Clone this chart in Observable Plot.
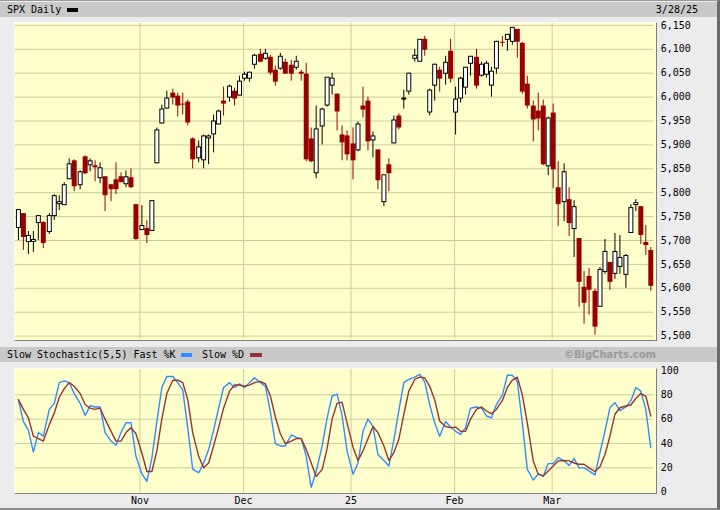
<!DOCTYPE html>
<html><head><meta charset="utf-8">
<script src="https://cdn.jsdelivr.net/npm/d3@7"></script>
<script src="https://cdn.jsdelivr.net/npm/@observablehq/plot@0.6"></script>
<style>
html,body{margin:0;padding:0;background:#ececec;}
#wrap{position:relative;width:720px;height:510px;overflow:hidden;background:#ececec;font-family:"DejaVu Sans Mono",monospace;font-size:10px;color:#000;box-sizing:border-box;border-top:1px solid #9a9a9a;border-right:3px solid #6a6a6a;border-bottom:2px solid #8a8a8a;}
.abs{position:absolute;}
.bar{left:0;width:717px;height:15px;background:#c9c9c9;}
.pane{background:#ffffcc;box-sizing:border-box;border-top:1px solid #ffffff;border-left:1px solid #ffffff;border-right:1px solid #808080;border-bottom:1px solid #808080;}
.txt{line-height:15px;white-space:pre;}
.sw{position:absolute;height:4px;}
#wrap svg{position:absolute;left:0;}
</style></head>
<body>
<div id="wrap">
  <div class="abs bar" style="top:1px"></div>
  <div class="abs txt" style="left:7px;top:1px">SPX Daily</div>
  <div class="sw" style="left:67px;top:7px;width:11px;background:#000"></div>
  <div class="abs txt" id="dateLbl" style="right:19px;top:1px"></div>
  <div class="abs pane" style="left:14px;top:21px;width:643px;height:319px"></div>
  <div class="abs bar" style="top:346px"></div>
  <div class="abs txt" style="left:7px;top:346px">Slow Stochastic(5,5) Fast %K</div>
  <div class="sw" style="left:181px;top:352px;width:11px;background:#2f8cff"></div>
  <div class="abs txt" style="left:202px;top:346px">Slow %D</div>
  <div class="sw" style="left:250px;top:352px;width:12px;background:#993333"></div>
  <div class="abs txt" style="right:61px;top:346px;font-family:'DejaVu Sans';font-weight:bold;color:#9a9a9a;">©BigCharts.com</div>
  <div class="abs pane" style="left:14px;top:367px;width:643px;height:126px"></div>
  <div id="price"></div>
  <div id="stoch"></div>
</div>
<script>
const dates = ["2024-09-30","2024-10-01","2024-10-02","2024-10-03","2024-10-04","2024-10-07","2024-10-08","2024-10-09","2024-10-10","2024-10-11","2024-10-14","2024-10-15","2024-10-16","2024-10-17","2024-10-18","2024-10-21","2024-10-22","2024-10-23","2024-10-24","2024-10-25","2024-10-28","2024-10-29","2024-10-30","2024-10-31","2024-11-01","2024-11-04","2024-11-05","2024-11-06","2024-11-07","2024-11-08","2024-11-11","2024-11-12","2024-11-13","2024-11-14","2024-11-15","2024-11-18","2024-11-19","2024-11-20","2024-11-21","2024-11-22","2024-11-25","2024-11-26","2024-11-27","2024-11-29","2024-12-02","2024-12-03","2024-12-04","2024-12-05","2024-12-06","2024-12-09","2024-12-10","2024-12-11","2024-12-12","2024-12-13","2024-12-16","2024-12-17","2024-12-18","2024-12-19","2024-12-20","2024-12-23","2024-12-24","2024-12-26","2024-12-27","2024-12-30","2024-12-31","2025-01-02","2025-01-03","2025-01-06","2025-01-07","2025-01-08","2025-01-10","2025-01-13","2025-01-14","2025-01-15","2025-01-16","2025-01-17","2025-01-21","2025-01-22","2025-01-23","2025-01-24","2025-01-27","2025-01-28","2025-01-29","2025-01-30","2025-01-31","2025-02-03","2025-02-04","2025-02-05","2025-02-06","2025-02-07","2025-02-10","2025-02-11","2025-02-12","2025-02-13","2025-02-14","2025-02-18","2025-02-19","2025-02-20","2025-02-21","2025-02-24","2025-02-25","2025-02-26","2025-02-27","2025-02-28","2025-03-03","2025-03-04","2025-03-05","2025-03-06","2025-03-07","2025-03-10","2025-03-11","2025-03-12","2025-03-13","2025-03-14","2025-03-17","2025-03-18","2025-03-19","2025-03-20","2025-03-21","2025-03-24","2025-03-25","2025-03-26","2025-03-27","2025-03-28"];

const open = [5727.3,5757.7,5698.2,5698.2,5737.4,5737.8,5719.1,5751.8,5778.4,5775.1,5829.8,5866.7,5816.6,5875.6,5859.4,5857.8,5832.7,5834.5,5817.8,5826.8,5833.9,5819.7,5832.6,5775.3,5723.2,5725.2,5722.4,5864.0,5947.2,5976.8,6008.9,6003.6,5985.8,5989.9,5912.8,5874.2,5869.0,5914.6,5924.4,5944.4,5992.3,6000.0,6014.1,6004.0,6040.1,6041.0,6069.4,6089.8,6081.4,6083.0,6057.6,6060.2,6074.3,6068.2,6063.8,6052.5,6047.7,5912.7,5842.0,5940.3,5984.7,6025.0,6006.2,5920.7,5919.7,5903.3,5891.1,5982.8,5993.3,5910.7,5890.7,5782.8,5859.7,5905.2,5962.0,5995.6,6014.1,6081.4,6076.3,6121.4,5969.0,6026.0,6057.7,6050.8,6096.8,5969.7,5998.1,6020.5,6072.2,6083.1,6046.4,6049.3,6025.1,6060.6,6115.5,6121.6,6117.8,6141.4,6114.1,6026.7,5982.7,5970.9,5981.9,5856.7,5968.3,5812.0,5781.4,5785.9,5726.0,5705.4,5603.7,5624.8,5594.5,5563.9,5635.6,5654.5,5632.4,5646.9,5630.7,5718.1,5775.9,5771.7,5695.6,5679.4];
const high = [5765.1,5757.7,5720.0,5718.8,5753.4,5739.3,5757.2,5796.8,5795.0,5822.1,5871.4,5870.4,5846.9,5878.5,5872.2,5866.9,5863.0,5834.9,5817.8,5862.8,5842.9,5847.2,5850.9,5775.3,5772.8,5741.4,5783.4,5936.1,5983.8,6012.5,6017.3,6009.9,6008.2,5993.9,5915.3,5908.1,5920.7,5920.7,5963.6,5972.9,6020.8,6025.4,6020.2,6044.2,6053.6,6052.2,6089.8,6100.0,6099.9,6088.5,6065.4,6092.6,6079.7,6078.6,6085.2,6057.7,6070.7,5935.5,5982.1,5978.3,6040.1,6049.8,6006.2,5940.8,5929.7,5935.1,5949.3,6021.0,6000.7,5927.9,5890.7,5837.0,5871.9,5960.6,5964.7,6015.0,6051.5,6100.8,6118.7,6128.2,6017.2,6069.1,6062.8,6086.6,6120.9,6022.1,6042.5,6062.9,6084.0,6101.3,6073.4,6076.3,6063.0,6116.9,6127.5,6129.6,6147.4,6141.4,6114.8,6043.7,5992.7,6009.8,5993.7,5959.4,5986.1,5865.1,5860.6,5812.1,5783.0,5705.4,5636.3,5642.2,5597.8,5645.3,5703.5,5654.5,5715.3,5711.2,5670.8,5775.1,5787.0,5772.3,5732.3,5685.9];
const low = [5703.5,5681.3,5674.0,5677.0,5703.5,5686.9,5714.6,5745.0,5764.8,5775.1,5829.8,5804.5,5808.3,5840.3,5846.1,5824.8,5821.2,5762.4,5784.9,5799.0,5823.1,5813.0,5811.2,5703.2,5723.2,5696.5,5722.1,5864.0,5947.2,5976.8,5986.7,5960.1,5965.9,5942.3,5853.0,5865.9,5853.0,5860.6,5885.4,5944.4,5963.9,5992.3,5984.9,6004.0,6035.3,6033.4,6061.1,6075.0,6079.2,6048.6,6026.5,6058.4,6051.1,6035.8,6059.1,6035.2,5867.8,5866.1,5832.3,5902.6,5981.4,6007.4,5932.9,5869.2,5868.9,5829.5,5888.7,5960.0,5890.7,5874.8,5809.7,5773.4,5805.8,5905.2,5935.0,5978.4,6006.9,6076.1,6074.7,6088.7,5962.9,5994.3,6013.0,6027.5,6030.9,5923.9,5990.9,6007.1,6046.8,6020.0,6044.8,6042.3,6003.0,6051.0,6107.6,6099.5,6111.1,6084.6,6008.6,5977.8,5908.5,5932.7,5858.8,5837.7,5810.9,5732.6,5742.4,5711.6,5666.3,5564.0,5528.4,5546.1,5504.7,5563.9,5631.1,5597.8,5622.2,5632.3,5603.1,5718.1,5764.0,5694.3,5670.9,5596.0];
const close = [5762.5,5708.8,5709.5,5699.9,5751.1,5695.9,5751.1,5792.0,5780.1,5815.0,5859.9,5815.3,5842.5,5841.5,5864.7,5853.9,5851.2,5797.4,5809.9,5808.1,5823.5,5832.9,5813.7,5705.5,5728.8,5712.7,5782.8,5929.0,5973.1,5995.5,6001.4,5983.9,5985.4,5949.2,5870.6,5893.6,5917.0,5917.1,5948.7,5969.3,5987.4,6021.6,5998.7,6032.4,6047.2,6049.9,6086.5,6075.1,6090.3,6052.9,6034.9,6084.2,6051.3,6051.1,6074.1,6050.6,5872.2,5867.1,5930.9,5974.1,6040.0,6037.6,5970.8,5906.9,5881.6,5868.6,5942.5,5975.4,5909.0,5918.3,5827.0,5836.2,5842.9,5949.9,5937.3,5996.7,6049.2,6086.4,6118.7,6101.2,6012.3,6067.7,6039.3,6071.2,6040.5,5994.6,6037.9,6061.5,6083.6,6026.0,6066.4,6068.5,6052.0,6115.1,6114.6,6129.6,6144.2,6117.5,6013.1,5983.3,5955.3,5956.1,5861.6,5954.5,5849.7,5778.2,5842.6,5738.5,5770.2,5614.6,5572.1,5599.3,5521.5,5638.9,5675.1,5614.7,5675.3,5662.9,5667.6,5767.6,5776.7,5712.2,5693.3,5606.0];

const fastK = [76,58,51,33,49,46,68,73,90,91.5,90,81,73,63,71,70,70,49,42,38.5,49,57,57,29.5,15,9,28,58,86,95,95,90,84,53,19,16,24,35,51,69,86,90,86,89,86,90,94,90,87,66,40,38,38,47,45,44,29.5,4,17,38,61,79,80.6,63,34,14.8,24,50,60,54,31,26,21.6,43,67,90,92.6,94.5,96.7,90.7,72,57,46,58,53.5,50,47.5,53,69,70,69,62.6,61,72,80,96,96,90.7,57,19,10,15,13,23.5,23.5,28.4,25.7,22,27.6,20,20,17.5,14.2,32.5,50,69.4,73.5,67,70,75,86,83,68,36.6];
const slowD = [76,68,61,46,44,42,55.5,65,78,85,90,87,81,72,69,68,69,60,50,42,42,49,53,48,32,17,17,34,60,81,92,92,90,76,49,29.5,20,24,38,53,69,83,88,88,87,88,90,91,89,79,62,48,40,42,44,44,35,24,13,18.6,36,60,73,74,57,37,26,34,44,54,49,38,26,32.5,43.4,64,83,92.6,94.5,94,87,76,58.5,54,53,53.5,50,50,60,68,70,66.7,64.5,68,75.4,86,92,94.5,80,57,25.7,14.8,13.4,17.5,21.6,25.7,26,25.7,24,23,23,20,17,21,31,46,64,69.4,70.8,71.6,77,81,79,62.6];

const monthStarts = ["2024-11-01","2024-12-02","2025-01-02","2025-02-03","2025-03-03"];
const monthLabels = ["Nov","Dec","25","Feb","Mar"];
const priceTicks = [5500,5550,5600,5650,5700,5750,5800,5850,5900,5950,6000,6050,6100,6150];
const stochTicks = [0,20,40,60,80,100];
const stochGrid = [20,40,60,80];
const lastDateLabel = "3/28/25";

document.getElementById("dateLbl").textContent = lastDateLabel;

const rows = dates.map((d, i) => ({
  i, date: d, open: open[i], high: high[i], low: low[i], close: close[i],
  hi: Math.max(open[i], close[i]), lo: Math.min(open[i], close[i]),
  k: fastK[i], d: slowD[i]
}));
const up = rows.filter(r => r.close >= r.open);
const down = rows.filter(r => r.close < r.open);
const gridPos = monthStarts.map(m => dates.indexOf(m) - 0.25);
const labelOf = new Map(gridPos.map((g, j) => [g, monthLabels[j]]));
const xDomain = [-0.5, dates.length - 0.5];
const GRID = "#cccc99";
const RED = "#990000";

const price = Plot.plot({
  width: 720, height: 345,
  marginLeft: 15, marginRight: 64, marginTop: 22, marginBottom: 6,
  style: {background: "transparent", fontFamily: "DejaVu Sans Mono", fontSize: "10px", color: "#000", overflow: "visible"},
  x: {domain: xDomain, round: true, axis: null},
  y: {domain: [5494.4, 6154.8], round: true},
  marks: [
    Plot.ruleY(priceTicks, {stroke: GRID, strokeOpacity: 1}),
    Plot.ruleX(gridPos, {stroke: GRID, strokeOpacity: 1}),
    Plot.axisY(priceTicks, {anchor: "right", label: null, tickSize: 0, tickPadding: 7, tickFormat: d3.format(","), textAnchor: "start", fill: "#000"}),
    Plot.ruleX(down, {x: "i", y1: "high", y2: "low", stroke: RED, insetBottom: -1}),
    Plot.ruleX(up, {x: "i", y1: "high", y2: "low", stroke: "#000", insetBottom: -1}),
    Plot.ruleX(down, {x: "i", y1: "hi", y2: "lo", stroke: RED, strokeWidth: 5, insetBottom: -1}),
    Plot.ruleX(up, {x: "i", y1: "hi", y2: "lo", stroke: "#000", strokeWidth: 5, insetTop: -1, insetBottom: -1}),
    Plot.ruleX(up, {x: "i", y1: "hi", y2: "lo", stroke: "#fff", strokeWidth: 3})
  ]
});
price.style.top = "0px";
document.getElementById("price").appendChild(price);

const stoch = Plot.plot({
  width: 720, height: 148,
  marginLeft: 15, marginRight: 64, marginTop: 6, marginBottom: 18,
  style: {background: "transparent", fontFamily: "DejaVu Sans Mono", fontSize: "10px", color: "#000", overflow: "visible"},
  x: {domain: xDomain, round: true},
  y: {domain: [-0.6, 100.8]},
  marks: [
    Plot.ruleY(stochGrid, {stroke: GRID, strokeOpacity: 1}),
    Plot.ruleX(gridPos, {stroke: GRID, strokeOpacity: 1}),
    Plot.axisY(stochTicks, {anchor: "right", label: null, tickSize: 0, tickPadding: 7, textAnchor: "start", fill: "#000"}),
    Plot.axisX(gridPos, {anchor: "bottom", label: null, tickSize: 0, tickPadding: 4, tickFormat: d => labelOf.get(d), fill: "#000"}),
    Plot.lineY(rows, {x: "i", y: "k", stroke: "#2f8cff", strokeWidth: 1.4}),
    Plot.lineY(rows, {x: "i", y: "d", stroke: "#993333", strokeWidth: 1.4})
  ]
});
stoch.style.top = "362px";
document.getElementById("stoch").appendChild(stoch);
</script>
</body></html>
